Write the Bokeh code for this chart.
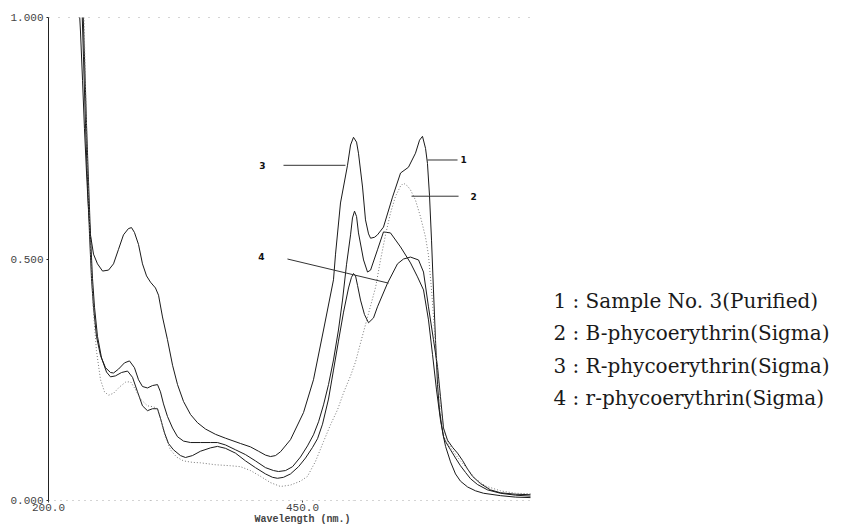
from bokeh.plotting import figure
from bokeh.models import Range1d, FixedTicker, Label, NumeralTickFormatter, LinearAxis
from bokeh.embed import file_html
from bokeh.resources import INLINE

# ---- data: (wavelength nm, absorbance) ----
sample_no3 = [
    (232.5, 1.05), (234.4, 0.92), (236.4, 0.78), (238.4, 0.66), (240.4, 0.55), (242.3, 0.46),
    (244.3, 0.40), (247.2, 0.34), (251.2, 0.30), (256.1, 0.275), (261.0, 0.265), (264.0, 0.264),
    (268.9, 0.272), (274.8, 0.285), (279.7, 0.289), (284.6, 0.275), (288.6, 0.25), (292.5, 0.236),
    (297.4, 0.233), (302.4, 0.238), (307.3, 0.24), (310.2, 0.225), (313.2, 0.20), (317.1, 0.174),
    (322.1, 0.15), (327.0, 0.132), (332.9, 0.123), (339.8, 0.12), (349.6, 0.12), (359.5, 0.12),
    (366.3, 0.12), (374.2, 0.115), (384.1, 0.105), (393.9, 0.095), (403.7, 0.082), (413.6, 0.068),
    (421.5, 0.062), (426.4, 0.06), (433.3, 0.062), (440.2, 0.07), (448.0, 0.09), (454.9, 0.113),
    (460.8, 0.136), (465.8, 0.163), (470.7, 0.198), (475.6, 0.240), (480.5, 0.291), (485.4, 0.353),
    (489.4, 0.415), (493.3, 0.488), (497.3, 0.550), (499.2, 0.585), (501.2, 0.599), (503.2, 0.588),
    (505.1, 0.554), (510.1, 0.498), (514.0, 0.473), (517.0, 0.477), (523.8, 0.519), (529.7, 0.556),
    (536.6, 0.554), (546.5, 0.525), (556.3, 0.492), (563.2, 0.463), (569.1, 0.436), (574.0, 0.374),
    (578.0, 0.302), (581.9, 0.229), (585.8, 0.167), (588.8, 0.132), (590.8, 0.122), (595.7, 0.105),
    (600.6, 0.088), (605.5, 0.072), (610.5, 0.058), (615.4, 0.045), (622.3, 0.033), (632.1, 0.022),
    (644.9, 0.015), (659.7, 0.011), (674.4, 0.009),
]

b_phycoerythrin = [
    (234.4, 1.05), (236.4, 0.86), (238.4, 0.70), (240.4, 0.57), (242.3, 0.47), (244.3, 0.39),
    (247.2, 0.31), (251.2, 0.25), (255.1, 0.225), (259.1, 0.218), (264.0, 0.222), (269.9, 0.235),
    (275.8, 0.245), (280.7, 0.246), (285.6, 0.23), (290.6, 0.21), (297.4, 0.196), (303.3, 0.194),
    (307.3, 0.19), (310.2, 0.17), (315.2, 0.13), (320.1, 0.105), (326.0, 0.09), (332.9, 0.082),
    (341.7, 0.079), (349.6, 0.078), (364.4, 0.074), (379.1, 0.072), (389.0, 0.07), (398.8, 0.062),
    (408.7, 0.05), (418.5, 0.037), (428.4, 0.029), (438.2, 0.032), (448.0, 0.04), (454.9, 0.05),
    (462.8, 0.081), (470.7, 0.122), (477.6, 0.157), (484.5, 0.188), (490.4, 0.223), (497.3, 0.258),
    (502.2, 0.287), (507.1, 0.326), (512.0, 0.364), (517.0, 0.403), (522.0, 0.442), (526.8, 0.498),
    (531.7, 0.550), (536.6, 0.595), (541.6, 0.630), (546.5, 0.651), (549.4, 0.657), (553.4, 0.651),
    (556.3, 0.643), (561.2, 0.622), (566.2, 0.587), (571.1, 0.545), (574.0, 0.508), (577.0, 0.436),
    (579.9, 0.353), (582.9, 0.271), (585.8, 0.198), (588.8, 0.147), (592.7, 0.12), (595.7, 0.11),
    (600.6, 0.095), (605.5, 0.082), (612.5, 0.065), (620.3, 0.045), (630.2, 0.03), (644.9, 0.02),
    (659.7, 0.015), (674.4, 0.014),
]

r_phycoerythrin_R = [
    (229.5, 1.05), (231.5, 0.97), (233.5, 0.87), (235.4, 0.77), (237.4, 0.68), (239.4, 0.60),
    (241.3, 0.55), (244.3, 0.51), (248.2, 0.49), (253.2, 0.475), (259.1, 0.477), (264.0, 0.49),
    (268.9, 0.52), (273.8, 0.55), (278.7, 0.563), (281.7, 0.565), (284.6, 0.555), (288.6, 0.53),
    (292.5, 0.49), (296.5, 0.465), (300.4, 0.452), (305.3, 0.44), (308.3, 0.425), (312.2, 0.38),
    (317.1, 0.333), (322.1, 0.28), (327.0, 0.24), (332.9, 0.205), (339.8, 0.178), (346.7, 0.161),
    (354.5, 0.148), (364.4, 0.137), (374.2, 0.129), (389.0, 0.118), (398.8, 0.111), (406.7, 0.102),
    (413.6, 0.094), (418.5, 0.091), (423.4, 0.093), (428.4, 0.101), (438.2, 0.126), (451.0, 0.182),
    (460.8, 0.25), (470.7, 0.353), (480.5, 0.457), (482.5, 0.51), (487.4, 0.616), (494.3, 0.694),
    (497.3, 0.736), (500.2, 0.752), (503.2, 0.742), (505.1, 0.719), (509.1, 0.649), (512.0, 0.581),
    (515.0, 0.552), (517.0, 0.543), (520.9, 0.545), (523.8, 0.55), (529.7, 0.566), (538.6, 0.628),
    (546.5, 0.678), (554.3, 0.69), (561.2, 0.719), (565.2, 0.746), (568.1, 0.754), (571.1, 0.729),
    (573.0, 0.698), (575.0, 0.632), (577.0, 0.539), (578.9, 0.436), (580.9, 0.333), (582.9, 0.240),
    (584.8, 0.188), (586.8, 0.157), (588.8, 0.132), (590.8, 0.112), (595.7, 0.08), (600.6, 0.055),
    (605.5, 0.04), (612.5, 0.028), (620.3, 0.02), (628.2, 0.015), (644.9, 0.01), (659.7, 0.007),
    (674.4, 0.006),
]

r_phycoerythrin_r = [
    (233.5, 1.05), (235.4, 0.92), (237.4, 0.78), (239.4, 0.66), (241.3, 0.55), (243.3, 0.46),
    (245.3, 0.40), (248.2, 0.34), (252.2, 0.295), (257.1, 0.266), (261.0, 0.256), (265.9, 0.258),
    (271.9, 0.265), (277.8, 0.268), (282.7, 0.255), (287.6, 0.225), (292.5, 0.196), (297.4, 0.186),
    (302.4, 0.19), (307.3, 0.19), (310.2, 0.17), (314.2, 0.14), (318.1, 0.118), (323.0, 0.105),
    (329.9, 0.093), (334.8, 0.089), (341.7, 0.093), (349.6, 0.102), (359.5, 0.109), (366.3, 0.112),
    (374.2, 0.108), (384.1, 0.098), (393.9, 0.082), (403.7, 0.068), (413.6, 0.055), (420.5, 0.048),
    (425.4, 0.046), (431.3, 0.048), (438.2, 0.055), (446.1, 0.07), (453.0, 0.088), (459.9, 0.11),
    (464.8, 0.128), (469.7, 0.158), (475.6, 0.21), (480.5, 0.27), (485.4, 0.33), (490.4, 0.39),
    (495.3, 0.44), (498.2, 0.462), (500.2, 0.47), (502.2, 0.465), (504.2, 0.445), (507.1, 0.415),
    (511.0, 0.385), (515.0, 0.368), (519.9, 0.378), (523.8, 0.401), (533.7, 0.450), (543.5, 0.490),
    (549.4, 0.500), (556.3, 0.504), (564.2, 0.498), (569.1, 0.473), (574.0, 0.401), (578.9, 0.333),
    (582.9, 0.277), (585.8, 0.215), (588.8, 0.15), (592.7, 0.125), (597.7, 0.11), (602.6, 0.098),
    (607.5, 0.083), (612.5, 0.065), (617.4, 0.05), (625.2, 0.035), (635.0, 0.022), (644.9, 0.016),
    (659.7, 0.013), (674.4, 0.012),
]

legend_texts = [
    "1 : Sample No. 3(Purified)",
    "2 : B-phycoerythrin(Sigma)",
    "3 : R-phycoerythrin(Sigma)",
    "4 : r-phycoerythrin(Sigma)",
]
legend_y = [0.413, 0.347, 0.279, 0.213]

# curve number callouts: (label, text x, text y, line x0, y0, x1, y1)
callouts = [
    ("1", 608.5, 0.705, 573.0, 0.705, 602.6, 0.705),
    ("2", 618.4, 0.630, 557.3, 0.630, 603.6, 0.630),
    ("3", 410.6, 0.694, 431.3, 0.694, 492.3, 0.694),
    ("4", 409.6, 0.506, 435.2, 0.500, 534.7, 0.450),
]

x_ticks = [200, 450]
x_minor = [300, 400, 500, 600]
y_ticks = [0.0, 0.5, 1.0]
x_title = "Wavelength (nm.)"
x_start, x_end_data, x_end_view = 200, 674.4, 994.3

p = figure(width=859, height=527, output_backend="svg", toolbar_location=None,
           x_range=Range1d(x_start, x_end_view), y_range=Range1d(0, 1.0),
           min_border_left=48, min_border_right=4, min_border_top=17, min_border_bottom=26)
p.background_fill_color = "white"
p.border_fill_color = "white"
p.outline_line_color = None
p.xgrid.grid_line_color = None
p.ygrid.grid_line_color = None

def draw(data, dash=None, color="#1a1a1a"):
    xs = [d[0] for d in data]
    ys = [d[1] for d in data]
    kw = dict(line_color=color, line_width=1)
    if dash:
        kw["line_dash"] = dash
    p.line(xs, ys, **kw)

draw(r_phycoerythrin_R)
draw(sample_no3)
draw(r_phycoerythrin_r)
draw(b_phycoerythrin, dash="1 2", color="#777777")

# dotted bottom and top borders of the plotting area
p.segment(x0=[x_start], y0=[0.0], x1=[x_end_data], y1=[0.0], line_color="#555555", line_dash="1 5", line_width=1)
p.segment(x0=[x_start], y0=[1.0], x1=[x_end_data], y1=[1.0], line_color="#555555", line_dash="1 9", line_width=1)
# small tick marks on the bottom border
p.segment(x0=x_minor, y0=[0.0] * len(x_minor), x1=x_minor, y1=[-0.006] * len(x_minor),
          line_color="#444444", line_width=1)

# callouts
for lab, tx, ty, x0, y0, x1, y1 in callouts:
    p.segment(x0=[x0], y0=[y0], x1=[x1], y1=[y1], line_color="#333333", line_width=1)
    p.add_layout(Label(x=tx, y=ty, text=lab, text_font="DejaVu Sans", text_font_style="bold",
                       text_font_size="9px", text_align="center", text_baseline="middle",
                       text_color="#111111"))

for t, yy in zip(legend_texts, legend_y):
    p.add_layout(Label(x=697.0, y=yy, text=t, text_font="DejaVu Serif", text_font_size="20px",
                       text_align="left", text_baseline="middle", text_color="#1a1a1a"))

# axes
xa = p.xaxis[0]
xa.ticker = FixedTicker(ticks=x_ticks, minor_ticks=[])
xa.formatter = NumeralTickFormatter(format="0.0")
xa.major_label_text_font = "Liberation Mono"
xa.major_label_text_font_size = "11px"
xa.major_label_standoff = 1
xa.axis_line_color = None
xa.major_tick_out = 2
xa.major_tick_in = 0
xa.major_tick_line_color = "#444444"

# second bottom axis carrying the axis title, centred under 450 nm
xt = LinearAxis(ticker=FixedTicker(ticks=[450], minor_ticks=[]),
                major_label_overrides={450: x_title})
xt.axis_line_color = None
xt.major_tick_line_color = None
xt.major_tick_out = 0
xt.major_tick_in = 0
xt.major_label_standoff = 0
xt.major_label_text_font = "Liberation Mono"
xt.major_label_text_font_style = "bold"
xt.major_label_text_font_size = "10px"
p.add_layout(xt, "below")

ya = p.yaxis[0]
ya.ticker = FixedTicker(ticks=y_ticks, minor_ticks=[])
ya.formatter = NumeralTickFormatter(format="0.000")
ya.major_label_text_font = "Liberation Mono"
ya.major_label_text_font_size = "11px"
ya.major_label_standoff = 3
ya.axis_line_color = "#222222"
ya.major_tick_out = 2
ya.major_tick_in = 0
ya.major_tick_line_color = "#222222"

open("out.html", "w").write(file_html(p, INLINE))
